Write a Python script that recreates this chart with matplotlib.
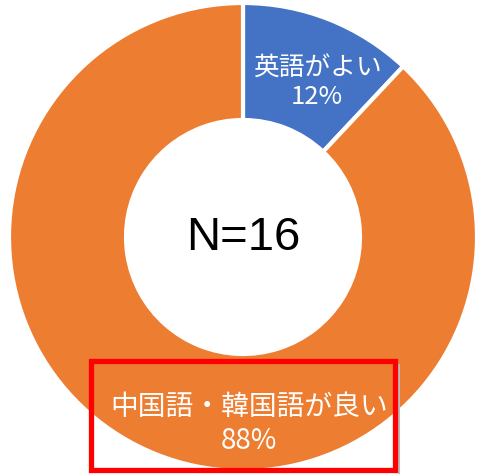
import matplotlib.pyplot as plt
from matplotlib.patches import Rectangle

# データ
labels = ["英語がよい", "中国語・韓国語が良い"]
values = [12, 88]
colors = ["#4472C4", "#ED7D31"]
n_total = "N=16"

W, H = 481, 476
fig = plt.figure(figsize=(W / 100, H / 100), dpi=100)
ax = fig.add_axes([0, 0, 1, 1])

cx, cy, r = 243, 237, 234

ax.pie(values, colors=colors, startangle=-90, counterclock=True,
       center=(cx, cy), radius=r, frame=True,
       wedgeprops=dict(width=r * 0.5, edgecolor="white", linewidth=3))
ax.set_xlim(0, W)
ax.set_ylim(H, 0)
ax.axis("off")

jp = ["Noto Sans CJK JP", "DejaVu Sans"]
ax.text(317, 83, f"{labels[0]}\n{values[0]}%", ha="center", va="center",
        color="white", fontsize=18.5, family=jp, linespacing=1.15)
ax.text(249, 424, f"{labels[1]}\n{values[1]}%", ha="center", va="center",
        color="white", fontsize=20, family=jp, linespacing=1.15)
ax.text(cx, 238, n_total, ha="center", va="center", color="black",
        fontsize=34, family="Liberation Sans")

# 赤枠(右側にうっすら影)
ax.plot([399, 399], [365, 473], color="#BBBBBB", linewidth=1.5, zorder=4)
ax.add_patch(Rectangle((91, 361), 304, 109, fill=False, edgecolor="#FF0000",
                       linewidth=3.8, zorder=5))

fig.savefig("out.png", dpi=100)
